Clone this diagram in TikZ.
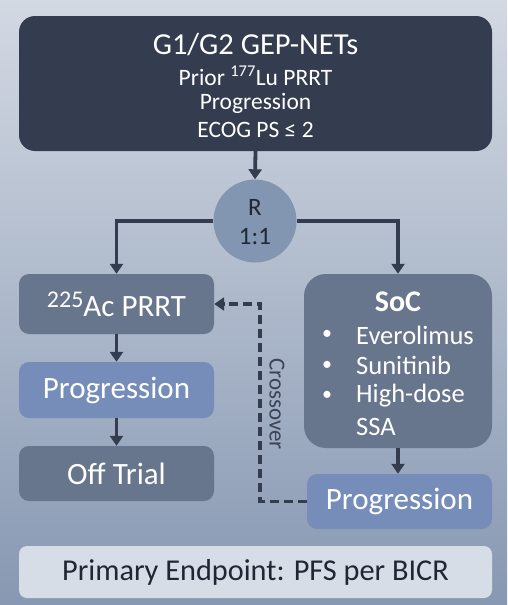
\documentclass[tikz,border=0pt]{standalone}
\usepackage{fontspec}
\setmainfont{Carlito}
\usetikzlibrary{arrows.meta,calc}
\definecolor{bgtop}{HTML}{D3D9E3}
\definecolor{bgbot}{HTML}{8798B2}
\definecolor{navy}{HTML}{333D4F}
\definecolor{slate}{HTML}{67768C}
\definecolor{progc}{HTML}{768DBA}
\definecolor{circc}{HTML}{8295B1}
\definecolor{lightbox}{HTML}{D6DDE7}
\definecolor{darktxt}{HTML}{1F2735}
\definecolor{crosstxt}{HTML}{3A4456}
\tikzset{
  box/.style={rectangle, inner sep=0pt, rounded corners=#1},
  box/.default=10pt,
  wtxt/.style={text=white, inner sep=0pt, anchor=center},
  conn/.style={draw=navy, line width=3.8pt, -{Triangle[length=10pt,width=13pt]}},
  dashconn/.style={draw=navy, line width=3.8pt, dash pattern=on 9pt off 5pt, -{Triangle[length=10pt,width=13pt]}}
}
\begin{document}
\begin{tikzpicture}[x=1pt,y=-1pt]
\shade[top color=bgtop, bottom color=bgbot] (0,0) rectangle (507,605);
\useasboundingbox (0,0) rectangle (507,605);

% top box
\node[box=16pt, fill=navy, minimum width=473pt, minimum height=135pt] (top) at (255.5,83.5) {};
\node[wtxt, font=\fontsize{30.5}{32}\selectfont] (t1) at (255.5,45) {G1/G2 GEP-NETs};
\node[wtxt, font=\fontsize{23.5}{25}\selectfont] (t2) at (255.5,76) {Prior \textsuperscript{177}Lu PRRT};
\node[wtxt, font=\fontsize{23.5}{25}\selectfont] (t3) at (255.5,103) {Progression};
\node[wtxt, font=\fontsize{23.5}{25}\selectfont] (t4) at (255.5,130) {ECOG PS ≤ 2};

% randomisation circle
\node[circle, fill=circc, minimum size=83pt, inner sep=0pt] (rand) at (255,221) {};
\node[inner sep=0pt, text=darktxt, font=\fontsize{25}{26}\selectfont] (r1) at (255,207) {R};
\node[inner sep=0pt, text=darktxt, font=\fontsize{25}{26}\selectfont] (r2) at (255,237) {1:1};

% left column
\node[box=10pt, fill=slate, minimum width=195pt, minimum height=60pt, text=white, font=\fontsize{31}{32}\selectfont] (ac) at (116.5,304) {{\fontsize{24}{26}\selectfont\raisebox{9pt}{225}}Ac PRRT};
\node[box=10pt, fill=progc, minimum width=195pt, minimum height=56pt, text=white, font=\fontsize{31}{32}\selectfont] (progL) at (116.5,390) {Progression};
\node[box=10pt, fill=slate, minimum width=195pt, minimum height=55pt, text=white, font=\fontsize{31}{32}\selectfont] (off) at (116.5,473.5) {Off Trial};

% right column
\node[box=22pt, fill=slate, minimum width=188pt, minimum height=174pt] (soc) at (398,361) {};
\node[wtxt, font=\fontsize{30}{32}\selectfont\bfseries] (soct) at (398,302) {SoC};
\node[wtxt, font=\fontsize{20}{22}\selectfont] (b1) at (327,335) {•};
\node[wtxt, font=\fontsize{20}{22}\selectfont] (b2) at (327,365.5) {•};
\node[wtxt, font=\fontsize{20}{22}\selectfont] (b3) at (327,396) {•};
\node[wtxt, anchor=west, font=\fontsize{26.5}{28}\selectfont] (s1) at (356,335) {Everolimus};
\node[wtxt, anchor=west, font=\fontsize{26.5}{28}\selectfont] (s2) at (356,365.5) {Sunitinib};
\node[wtxt, anchor=west, font=\fontsize{26.5}{28}\selectfont] (s3) at (356,396) {High-dose};
\node[wtxt, anchor=west, font=\fontsize{26.5}{28}\selectfont] (s4) at (356,427) {SSA};
\node[box=10pt, fill=progc, minimum width=185pt, minimum height=55pt, text=white, font=\fontsize{31}{32}\selectfont] (progR) at (399.5,501.5) {Progression};

% bottom box
\node[box=8pt, fill=lightbox, minimum width=473pt, minimum height=52pt, text=darktxt, font=\fontsize{30.3}{32}\selectfont] (endp) at (255.5,572) {Primary Endpoint: PFS per BICR};

% connectors
\draw[conn] (top.south) -- (rand.north);
\draw[conn] (rand.west) -| (ac.north);
\draw[conn] (rand.east) -| (soc.north);
\draw[conn] (ac.south) -- (progL.north);
\draw[conn] (progL.south) -- (off.north);
\draw[conn] (soc.south) -- (soc.south |- progR.north);
\coordinate (cr) at (260,501.5);
\draw[dashconn] (progR.west) -- (cr) |- (ac.east);
\node[rotate=-90, text=crosstxt, inner sep=0pt, font=\fontsize{23}{24}\selectfont] (cross) at (277,404) {Crossover};
\end{tikzpicture}
\end{document}
